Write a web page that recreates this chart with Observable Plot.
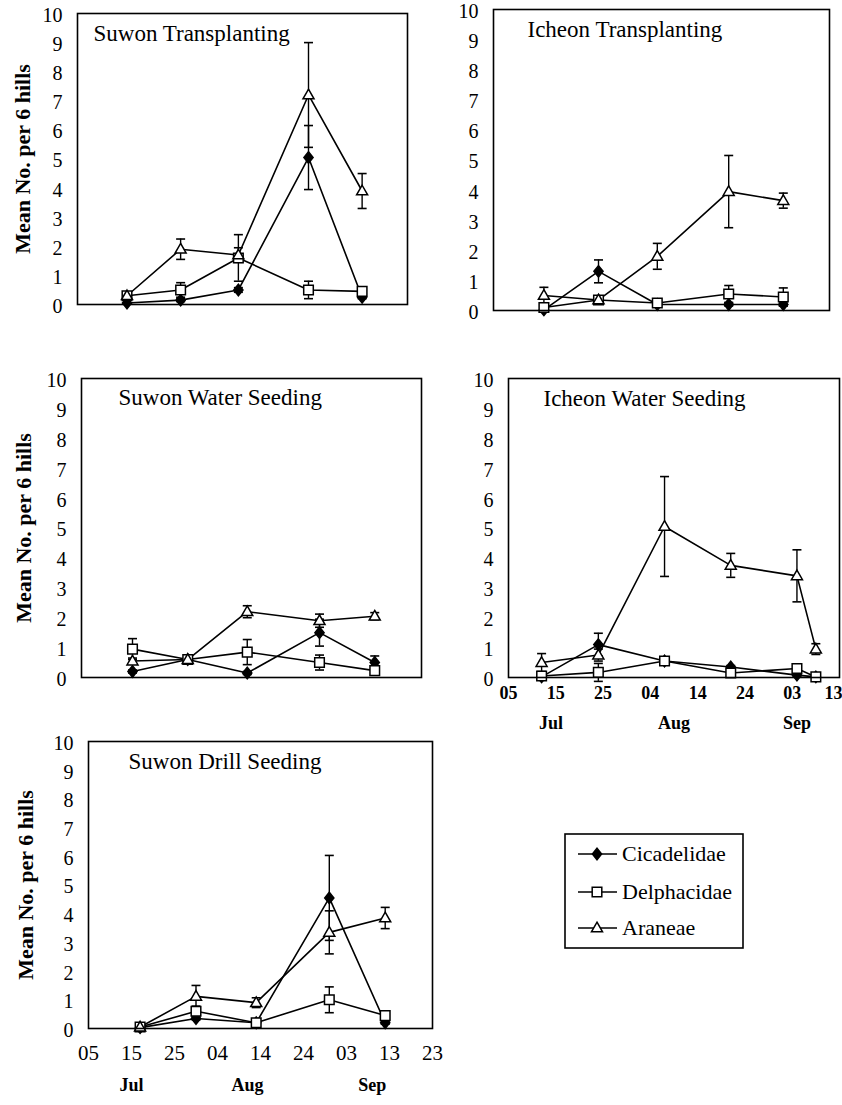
<!DOCTYPE html>
<html>
<head>
<meta charset="utf-8">
<script src="https://cdn.jsdelivr.net/npm/d3@7"></script>
<script src="https://cdn.jsdelivr.net/npm/@observablehq/plot@0.6"></script>
<style>
html, body { margin: 0; padding: 0; background: #fff; }
#page { position: relative; width: 842px; height: 1105px; overflow: hidden; background: #fff; font-family: "Liberation Serif", serif; }
#page > svg { position: absolute; }
#page svg text { font-family: "Liberation Serif", serif; }
</style>
</head>
<body>
<div id="page"></div>
<script>
// ---------- data ----------
const series = ["Cicadelidae", "Delphacidae", "Araneae"];
const yLabel = "Mean No. per 6 hills";
const yTicks = [0, 1, 2, 3, 4, 5, 6, 7, 8, 9, 10];

const tickDates = ["2000-07-05", "2000-07-15", "2000-07-25", "2000-08-04", "2000-08-14", "2000-08-24", "2000-09-03", "2000-09-13", "2000-09-23"];
const tickLabels = ["05", "15", "25", "04", "14", "24", "03", "13", "23"];
const monthNames = ["Jul", "Aug", "Sep"];
const monthDatesIcheonWS = ["2000-07-14", "2000-08-09", "2000-09-04"];
const monthDatesSuwonDS = ["2000-07-15", "2000-08-11", "2000-09-09"];

const sampleDates = ["2000-07-17", "2000-07-30", "2000-08-13", "2000-08-30", "2000-09-12"];
const icheonWSDates = ["2000-07-12", "2000-07-24", "2000-08-07", "2000-08-21", "2000-09-04", "2000-09-08"];

// Suwon Transplanting
const stCic = [0.05, 0.15, 0.5, 5.05, 0.25];
const stCicErr = [0, 0.05, 0.08, 1.1, 0.05];
const stDel = [0.3, 0.5, 1.6, 0.5, 0.45];
const stDelErr = [0.05, 0.25, 0.8, 0.3, 0.15];
const stAra = [0.3, 1.9, 1.7, 7.2, 3.9];
const stAraErr = [0.05, 0.35, 0.25, 1.8, 0.6];

// Icheon Transplanting
const itCic = [0.02, 1.3, 0.2, 0.2, 0.2];
const itCicErr = [0, 0.38, 0.05, 0.05, 0.05];
const itDel = [0.1, 0.35, 0.25, 0.55, 0.45];
const itDelErr = [0.05, 0.05, 0.08, 0.28, 0.3];
const itAra = [0.5, 0.35, 1.8, 3.95, 3.65];
const itAraErr = [0.27, 0.05, 0.43, 1.2, 0.25];

// Suwon Water Seeding
const swCic = [0.2, 0.6, 0.15, 1.5, 0.5];
const swCicErr = [0.05, 0.05, 0.05, 0.45, 0.22];
const swDel = [0.95, 0.6, 0.85, 0.5, 0.23];
const swDelErr = [0.35, 0.05, 0.42, 0.25, 0.1];
const swAra = [0.55, 0.6, 2.2, 1.9, 2.05];
const swAraErr = [0.1, 0.05, 0.2, 0.22, 0.12];

// Icheon Water Seeding
const iwCic = [0.02, 1.1, 0.55, 0.35, 0.08, 0.02];
const iwCicErr = [0, 0.38, 0.05, 0.05, 0.05, 0];
const iwDel = [0.05, 0.17, 0.55, 0.15, 0.3, 0.02];
const iwDelErr = [0, 0.3, 0.05, 0.08, 0.08, 0];
const iwAra = [0.5, 0.75, 5.05, 3.75, 3.4, 0.95];
const iwAraErr = [0.3, 0.2, 1.67, 0.4, 0.87, 0.18];

// Suwon Drill Seeding
const sdCic = [0.03, 0.35, 0.2, 4.55, 0.2];
const sdCicErr = [0, 0.05, 0.05, 1.48, 0.05];
const sdDel = [0.05, 0.6, 0.2, 1.0, 0.45];
const sdDelErr = [0, 0.18, 0.05, 0.45, 0.08];
const sdAra = [0.05, 1.12, 0.9, 3.35, 3.85];
const sdAraErr = [0, 0.38, 0.17, 0.75, 0.37];

const panelTitles = ["Suwon Transplanting", "Icheon Transplanting", "Suwon Water Seeding", "Icheon Water Seeding", "Suwon Drill Seeding"];

// ---------- symbols ----------
const capSym = {draw(ctx, size) { const r = Math.sqrt(size / Math.PI); ctx.moveTo(-r, 0); ctx.lineTo(r, 0); }};
const diamondSym = {draw(ctx, size) { const r = Math.sqrt(size / Math.PI); ctx.moveTo(0, -r * 1.25); ctx.lineTo(r, 0); ctx.lineTo(0, r * 1.25); ctx.lineTo(-r, 0); ctx.closePath(); }};
const squareSym = {draw(ctx, size) { const r = Math.sqrt(size / Math.PI); ctx.moveTo(-r, -r); ctx.lineTo(r, -r); ctx.lineTo(r, r); ctx.lineTo(-r, r); ctx.closePath(); }};
const triangleSym = {draw(ctx, size) { const r = Math.sqrt(size / Math.PI); ctx.moveTo(0, -r * 1.2); ctx.lineTo(r * 1.15, r * 0.8); ctx.lineTo(-r * 1.15, r * 0.8); ctx.closePath(); }};
const seriesStyle = {
  Cicadelidae: {symbol: diamondSym, fill: "black", r: 4.6},
  Delphacidae: {symbol: squareSym, fill: "white", r: 4.8},
  Araneae: {symbol: triangleSym, fill: "white", r: 4.8}
};

const parse = s => new Date(s + "T00:00:00Z");

function rows(dates, means, errs) {
  const out = [];
  series.forEach((s, k) => dates.forEach((d, i) => out.push({date: parse(d), v: means[k][i], e: errs[k][i], series: s})));
  return out;
}

const page = document.getElementById("page");

function panel(cfg) {
  const data = rows(cfg.dates, cfg.means, cfg.errs);
  const eb = data.filter(d => d.e > 0);
  const marks = [
    Plot.axisY({ticks: yTicks, tickSize: 0, tickPadding: 15, fontSize: 20, dy: 2, label: null}),
    Plot.ruleX(eb, {x: "date", y1: d => d.v - d.e, y2: d => d.v + d.e, stroke: "black", strokeWidth: 1.4}),
    Plot.dot(eb, {x: "date", y: d => d.v + d.e, symbol: capSym, r: 4.5, stroke: "black", strokeWidth: 1.6}),
    Plot.dot(eb, {x: "date", y: d => d.v - d.e, symbol: capSym, r: 4.5, stroke: "black", strokeWidth: 1.6}),
    Plot.line(data, {x: "date", y: "v", z: "series", stroke: "black", strokeWidth: 1.6})
  ];
  for (const s of series) {
    const st = seriesStyle[s];
    marks.push(Plot.dot(data.filter(d => d.series === s), {x: "date", y: "v", symbol: st.symbol, r: st.r, fill: st.fill, stroke: "black", strokeWidth: 1.5}));
  }
  marks.push(Plot.frame({stroke: "black", strokeWidth: 1.6}));
  marks.push(Plot.text([cfg.title], {frameAnchor: "top-left", textAnchor: "start", lineAnchor: "bottom", dx: cfg.titleDx, dy: cfg.titleDy, fontSize: 23}));
  if (cfg.ylabelDx != null) {
    marks.push(Plot.text([yLabel], {frameAnchor: "left", textAnchor: "middle", dx: cfg.ylabelDx, rotate: -90, fontSize: 22, fontWeight: "bold"}));
  }
  const xOpts = {type: "utc", domain: cfg.domain.map(parse)};
  if (cfg.xTicks) {
    const lab = new Map(tickDates.map((d, i) => [parse(d).getTime(), tickLabels[i]]));
    const fmt = d => lab.get(d.getTime());
    const axisOpts = {tickFormat: fmt, tickSize: 0, tickPadding: cfg.tickPadding, fontSize: cfg.tickFont, fontWeight: cfg.tickWeight, label: null};
    const n = cfg.xTicks.length;
    if (cfg.lastTickEnd) {
      marks.push(Plot.axisX({...axisOpts, ticks: cfg.xTicks.slice(0, n - 1).map(parse)}));
      marks.push(Plot.axisX({...axisOpts, ticks: cfg.xTicks.slice(n - 1).map(parse), textAnchor: "end", dx: 3}));
    } else {
      marks.push(Plot.axisX({...axisOpts, ticks: cfg.xTicks.map(parse)}));
    }
    marks.push(Plot.text(monthNames, {x: (d, i) => parse(cfg.monthDates[i]), frameAnchor: "bottom", dy: cfg.monthDy, fontSize: 18, fontWeight: "bold"}));
  } else {
    xOpts.axis = null;
  }
  const svg = Plot.plot({
    width: cfg.w, height: cfg.h,
    marginLeft: cfg.fl - cfg.left, marginTop: cfg.ft - cfg.top,
    marginRight: cfg.left + cfg.w - cfg.fr, marginBottom: cfg.top + cfg.h - cfg.fb,
    x: xOpts,
    y: {domain: [0, 10], label: null},
    style: {fontFamily: "Liberation Serif", fontSize: "20px", color: "black", background: "transparent", overflow: "visible"},
    marks
  });
  svg.style.left = cfg.left + "px";
  svg.style.top = cfg.top + "px";
  page.appendChild(svg);
}

const fullDomain = ["2000-07-05", "2000-09-23"];
const shortDomain = ["2000-07-05", "2000-09-13"];

panel({title: panelTitles[0], dates: sampleDates, means: [stCic, stDel, stAra], errs: [stCicErr, stDelErr, stAraErr],
  domain: fullDomain, left: 0, top: 0, w: 420, h: 330, fl: 77, ft: 13, fr: 407, fb: 304, titleDx: 16, titleDy: 27, ylabelDx: -55});
panel({title: panelTitles[1], dates: sampleDates, means: [itCic, itDel, itAra], errs: [itCicErr, itDelErr, itAraErr],
  domain: fullDomain, left: 430, top: 0, w: 412, h: 330, fl: 493, ft: 9, fr: 829, fb: 310, titleDx: 34, titleDy: 27});
panel({title: panelTitles[2], dates: sampleDates, means: [swCic, swDel, swAra], errs: [swCicErr, swDelErr, swAraErr],
  domain: fullDomain, left: 0, top: 360, w: 430, h: 340, fl: 81, ft: 378, fr: 421, fb: 677, titleDx: 37, titleDy: 26, ylabelDx: -58});
panel({title: panelTitles[3], dates: icheonWSDates, means: [iwCic, iwDel, iwAra], errs: [iwCicErr, iwDelErr, iwAraErr],
  domain: shortDomain, left: 430, top: 360, w: 412, h: 390, fl: 508, ft: 378, fr: 839, fb: 677, titleDx: 35, titleDy: 27,
  xTicks: tickDates.slice(0, 8), lastTickEnd: true, tickPadding: 9, tickFont: 18, tickWeight: "bold", monthDates: monthDatesIcheonWS, monthDy: 51});
panel({title: panelTitles[4], dates: sampleDates, means: [sdCic, sdDel, sdAra], errs: [sdCicErr, sdDelErr, sdAraErr],
  domain: fullDomain, left: 0, top: 720, w: 460, h: 385, fl: 88, ft: 741, fr: 432, fb: 1028, titleDx: 40, titleDy: 27, ylabelDx: -63,
  xTicks: tickDates, tickPadding: 17, tickFont: 21, tickWeight: "normal", monthDates: monthDatesSuwonDS, monthDy: 62});

// ---------- legend ----------
const leg = d3.create("svg").attr("width", 190).attr("height", 126)
  .style("left", "560px").style("top", "828px").style("position", "absolute");
leg.append("rect").attr("x", 5).attr("y", 6).attr("width", 178).attr("height", 114)
  .attr("fill", "white").attr("stroke", "black").attr("stroke-width", 1.6);
const legY = [26, 64, 100];
series.forEach((s, i) => {
  const g = leg.append("g").attr("transform", `translate(0,${legY[i]})`);
  g.append("line").attr("x1", 18).attr("x2", 57).attr("stroke", "black").attr("stroke-width", 1.6);
  const st = seriesStyle[s];
  g.append("path").attr("transform", "translate(37,0)")
    .attr("d", d3.symbol(st.symbol, Math.PI * st.r * st.r)())
    .attr("fill", st.fill).attr("stroke", "black").attr("stroke-width", 1.5);
  g.append("text").attr("x", 62).attr("y", 7).attr("font-size", 22).attr("fill", "black")
    .style("font-family", "Liberation Serif").text(s);
});
page.appendChild(leg.node());
</script>
</body>
</html>
